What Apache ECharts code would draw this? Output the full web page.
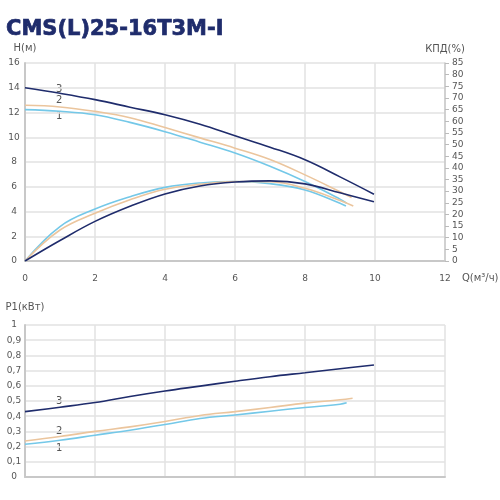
<!DOCTYPE html>
<html>
<head>
<meta charset="utf-8">
<script src="https://cdn.jsdelivr.net/npm/echarts@6/dist/echarts.min.js"></script>
<style>html,body{margin:0;padding:0;background:#fff}#c{width:500px;height:500px}</style>
</head>
<body>
<div id="c"></div>
<script>
// ---- data ----
const titleText = 'CMS(L)25-16T3M-I';
// Head curves H(Q), m
const q1H = [0, 1, 2, 3, 4, 5, 6, 7, 8, 9, 9.19];
const h1 = [12.23, 12.1, 11.82, 11.2, 10.45, 9.6, 8.72, 7.65, 6.42, 5.0, 4.67];
const q2H = [0, 1, 2, 3, 4, 5, 6, 7, 8, 9, 9.33];
const h2 = [12.58, 12.45, 12.09, 11.58, 10.78, 9.95, 9.12, 8.2, 6.96, 5.6, 5.13];
const q3H = [0, 1, 2, 3, 4, 5, 6, 7, 8, 9, 9.97];
const h3 = [14.0, 13.55, 13.04, 12.43, 11.82, 11.05, 10.12, 9.2, 8.18, 6.8, 5.4];
// Efficiency curves, %
const q1E = [0, 1, 2, 3, 4, 5, 6, 7, 8, 9, 9.17];
const e1 = [0, 14.8, 22.3, 27.6, 31.6, 33.5, 34.1, 33.2, 30.5, 24.8, 23.6];
const q2E = [0, 1, 2, 3, 4, 5, 6, 7, 8, 9, 9.38];
const e2 = [0, 13.3, 20.5, 26.3, 30.8, 32.9, 34.1, 34.0, 31.2, 26.0, 23.6];
const q3E = [0, 1, 2, 3, 4, 5, 6, 7, 8, 9, 9.97];
const e3 = [0, 8.8, 17.0, 23.5, 28.8, 32.2, 33.9, 34.4, 33.1, 29.3, 25.4];
// Power curves P1, kW
const q1P = [0, 1, 2, 3, 4, 5, 6, 7, 8, 9, 9.19];
const p1 = [0.215, 0.242, 0.275, 0.308, 0.345, 0.385, 0.408, 0.433, 0.457, 0.479, 0.488];
const q2P = [0, 1, 2, 3, 4, 5, 6, 7, 8, 9, 9.36];
const p2 = [0.237, 0.266, 0.30, 0.33, 0.365, 0.405, 0.43, 0.457, 0.486, 0.508, 0.518];
const q3P = [0, 1, 2, 3, 4, 5, 6, 7, 8, 9, 9.97];
const p3 = [0.43, 0.459, 0.49, 0.53, 0.566, 0.598, 0.63, 0.66, 0.686, 0.712, 0.737];
// axis names
const nameH = 'H(м)', nameEff = 'КПД(%)', nameQ = 'Q(м³/ч)', nameP = 'P1(кВт)';
const curveNames = ['1', '2', '3'];

const C1 = '#74c8e8', C2 = '#ebc59d', C3 = '#1f2c6c';
const zip = (a, b) => a.map((v, i) => [v, b[i]]);
const FONT = 'DejaVu Sans';
const lbl = {color: '#555', fontSize: 9, fontFamily: FONT};
const grid = {lineStyle: {color: '#e2e2e2', width: 1.5}};
const axLine = {lineStyle: {color: '#c8c8c8', width: 2}};
const nameStyle = {color: '#555', fontSize: 10, fontFamily: FONT};

const chart = echarts.init(document.getElementById('c'), null, {renderer: 'canvas'});
function line(name, data, color, xi, yi) {
  return {type: 'line', name, data, xAxisIndex: xi, yAxisIndex: yi, smooth: 0.4,
    symbol: 'none', lineStyle: {color, width: 1.6}, silent: true, z: 3};
}
chart.setOption({
  animation: false,
  backgroundColor: '#fff',
  title: {text: titleText, left: 1, top: 14,
    textStyle: {fontSize: 21, fontWeight: 'bold', fontFamily: FONT, color: C3,
      textBorderColor: C3, textBorderWidth: 0.7}},
  grid: [
    {left: 25, right: 55, top: 63, height: 198},
    {left: 25, right: 55, top: 325, height: 152}
  ],
  xAxis: [
    {type: 'value', gridIndex: 0, min: 0, max: 12, interval: 2,
      name: nameQ, nameLocation: 'end', nameGap: 17,
      nameTextStyle: Object.assign({verticalAlign: 'top', padding: [12, 0, 0, 0]}, nameStyle),
      axisLine: axLine, axisTick: {show: false},
      axisLabel: Object.assign({margin: 13}, lbl), splitLine: grid},
    {type: 'value', gridIndex: 1, min: 0, max: 12, interval: 2,
      axisLine: axLine, axisTick: {show: false}, axisLabel: {show: false}, splitLine: grid}
  ],
  yAxis: [
    {type: 'value', gridIndex: 0, min: 0, max: 16, interval: 2,
      name: nameH, nameGap: 10, nameTextStyle: nameStyle,
      axisLine: {show: true, lineStyle: axLine.lineStyle}, axisTick: {show: false},
      axisLabel: Object.assign({margin: 11, align: 'center'}, lbl), splitLine: grid},
    {type: 'value', gridIndex: 0, min: 0, max: 85, interval: 5, position: 'right',
      name: nameEff, nameGap: 9, nameTextStyle: nameStyle,
      axisLine: {show: true, lineStyle: {color: '#c8c8c8', width: 1.5}},
      axisTick: {show: true, length: 4, lineStyle: {color: '#bbb'}},
      axisLabel: Object.assign({margin: 7}, lbl), splitLine: {show: false}},
    {type: 'value', gridIndex: 1, min: 0, max: 1, interval: 0.1,
      name: nameP, nameGap: 13, nameTextStyle: nameStyle,
      axisLine: {show: true, lineStyle: axLine.lineStyle}, axisTick: {show: false},
      axisLabel: Object.assign({margin: 11, align: 'center',
        formatter: v => (Math.round(v * 10) / 10).toString().replace('.', ',')}, lbl),
      splitLine: grid}
  ],
  graphic: [
    {type: 'text', left: 56, top: 84, style: {text: curveNames[2], fill: '#555', font: '10px ' + FONT}},
    {type: 'text', left: 56, top: 95, style: {text: curveNames[1], fill: '#555', font: '10px ' + FONT}},
    {type: 'text', left: 56, top: 111, style: {text: curveNames[0], fill: '#555', font: '10px ' + FONT}},
    {type: 'text', left: 56, top: 396, style: {text: curveNames[2], fill: '#555', font: '10px ' + FONT}},
    {type: 'text', left: 56, top: 426, style: {text: curveNames[1], fill: '#555', font: '10px ' + FONT}},
    {type: 'text', left: 56, top: 443, style: {text: curveNames[0], fill: '#555', font: '10px ' + FONT}}
  ],
  series: [
    line('H1', zip(q1H, h1), C1, 0, 0),
    line('H2', zip(q2H, h2), C2, 0, 0),
    line('H3', zip(q3H, h3), C3, 0, 0),
    line('E1', zip(q1E, e1), C1, 0, 1),
    line('E2', zip(q2E, e2), C2, 0, 1),
    line('E3', zip(q3E, e3), C3, 0, 1),
    line('P1', zip(q1P, p1), C1, 1, 2),
    line('P2', zip(q2P, p2), C2, 1, 2),
    line('P3', zip(q3P, p3), C3, 1, 2)
  ]
});
</script>
</body>
</html>
